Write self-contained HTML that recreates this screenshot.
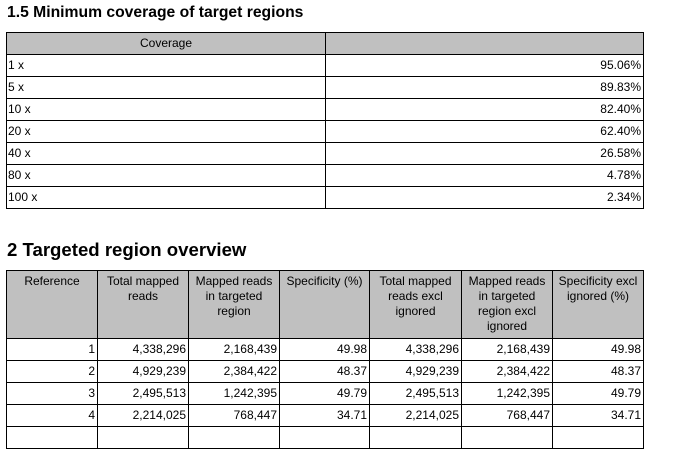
<!DOCTYPE html>
<html><head><style>
body{margin:0;width:674px;height:431px;background:#fff;position:relative;overflow:hidden;font-family:"Liberation Sans",Arial,sans-serif;}
h1{position:absolute;margin:0;font-size:16px;font-weight:bold;color:#000;}
.c{position:absolute;box-sizing:border-box;border:1px solid #000;font-size:12px;color:#000;}
.h{background:#c0c0c0;text-align:center;padding-top:3px;line-height:15px;}
.r{text-align:right;padding-right:2px;line-height:20px;}
.l{text-align:left;padding-left:1px;line-height:20px;}
</style></head><body>
<h1 style="left:7px;top:4px;font-size:15.7px;">1.5 Minimum coverage of target regions</h1>
<div id="t1"></div>
<h1 style="left:7px;top:239px;font-size:18.6px;">2 Targeted region overview</h1>
<div id="t2"></div>
<script>
var t1=document.getElementById('t1'),h='';
h+='<div class="c h" style="left:6px;top:32px;width:320px;height:23px;padding-top:3px;">Coverage</div>';
h+='<div class="c h" style="left:325px;top:32px;width:319px;height:23px;"></div>';
var rows=[['1 x','95.06%'],['5 x','89.83%'],['10 x','82.40%'],['20 x','62.40%'],['40 x','26.58%'],['80 x','4.78%'],['100 x','2.34%']];
rows.forEach(function(r,i){var y=54+i*22;
h+='<div class="c l" style="left:6px;top:'+y+'px;width:320px;height:23px;">'+r[0]+'</div>';
h+='<div class="c r" style="left:325px;top:'+y+'px;width:319px;height:23px;">'+r[1]+'</div>';});
t1.innerHTML=h;
var xs=[6,97,188,279,369,461,552,643];
var hd=['Reference','Total mapped<br>reads','Mapped reads<br>in targeted<br>region','Specificity (%)','Total mapped<br>reads excl<br>ignored','Mapped reads<br>in targeted<br>region excl<br>ignored','Specificity excl<br>ignored (%)'];
var d=[['1','4,338,296','2,168,439','49.98','4,338,296','2,168,439','49.98'],['2','4,929,239','2,384,422','48.37','4,929,239','2,384,422','48.37'],['3','2,495,513','1,242,395','49.79','2,495,513','1,242,395','49.79'],['4','2,214,025','768,447','34.71','2,214,025','768,447','34.71'],['','','','','','','']];
h='';
for(var j=0;j<7;j++){var w=xs[j+1]-xs[j]+1;
h+='<div class="c h" style="left:'+xs[j]+'px;top:270px;width:'+w+'px;height:69px;">'+hd[j]+'</div>';
d.forEach(function(r,i){var y=338+i*22;
h+='<div class="c r" style="left:'+xs[j]+'px;top:'+y+'px;width:'+w+'px;height:23px;">'+r[j]+'</div>';});}
document.getElementById('t2').innerHTML=h;
</script>
</body></html>
